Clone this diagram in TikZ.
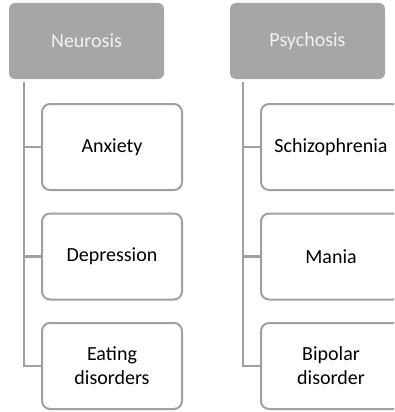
\documentclass[tikz,border=0pt]{standalone}
\usepackage{fontspec}
\setmainfont{Carlito}
\usetikzlibrary{positioning}
\definecolor{headgray}{RGB}{166,166,169}
\definecolor{linegray}{RGB}{160,160,163}
\definecolor{headtext}{RGB}{242,242,242}

\begin{document}
\begin{tikzpicture}[x=1pt, y=-1pt,
			head/.style={rectangle, rounded corners=6pt, fill=headgray, minimum width=155pt, minimum height=76pt, align=center, text=headtext, font=\fontsize{20}{24}\selectfont},
			item/.style={rectangle, rounded corners=8pt, draw=linegray, line width=2pt, fill=white, minimum width=140pt, minimum height=86pt, align=center, font=\fontsize{20}{24}\selectfont},
			link/.style={draw=linegray, line width=2.5pt}
		]
			\useasboundingbox (0,0) rectangle (394,412);
			\clip (0,0) rectangle (394,412);

			% Boxes
			\node[head] (neurosis) at (86.5,41) {Neurosis};
			\node[head] (psychosis) at (307.5,41) {Psychosis};
			\node[item] (anxiety) at (112,147) {Anxiety};
			\node[item] (depression) at (112,256.5) {Depression};
			\node[item] (eating) at (112,366) {Eating\\disorders};
			\node[item] (schizo) at (331,147) {Schizophrenia};
			\node[item] (mania) at (331,256.5) {Mania};
			\node[item] (bipolar) at (331,366) {Bipolar\\disorder};

			% Stems
			\coordinate (nstem) at (24,82);
			\coordinate (pstem) at (243,82);

			% Lines
			\draw[link] (nstem) |- (eating.west);
			\draw[link] (nstem) |- (anxiety.west);
			\draw[link] (nstem) |- (depression.west);
			\draw[link] (pstem) |- (bipolar.west);
			\draw[link] (pstem) |- (schizo.west);
			\draw[link] (pstem) |- (mania.west);
		\end{tikzpicture}
\end{document}
